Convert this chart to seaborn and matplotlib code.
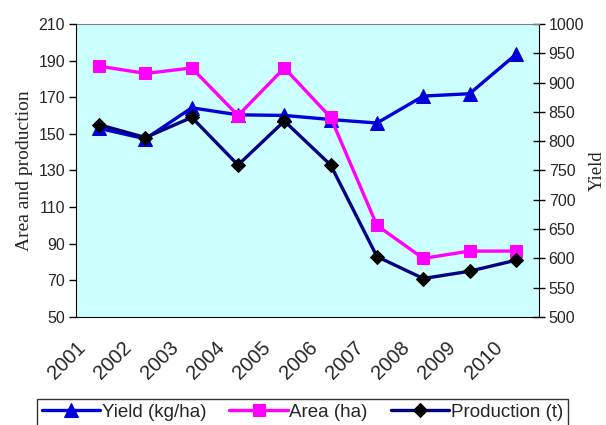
import matplotlib
matplotlib.use("Agg")
import matplotlib.pyplot as plt
import matplotlib.transforms as mtransforms
import seaborn as sns
import numpy as np
import pandas as pd

years = ["2001", "2002", "2003", "2004", "2005", "2006", "2007", "2008", "2009", "2010"]
yield_kg_ha = [822, 804, 857, 845, 844, 837, 831, 877, 881, 948]
area_ha = [187, 183, 186, 160, 186, 159, 100, 82, 86, 86]
production_t = [155, 148, 159, 133, 157, 133, 83, 71, 75, 81]

left_ticks = [50, 70, 90, 110, 130, 150, 170, 190, 210]
right_ticks = [500, 550, 600, 650, 700, 750, 800, 850, 900, 950, 1000]

sns.set_style("white")
plt.rcParams["font.family"] = ["Liberation Sans", "DejaVu Sans"]

df = pd.DataFrame({"x": np.arange(len(years)), "year": years,
                   "yield": yield_kg_ha, "area": area_ha, "prod": production_t})

fig = plt.figure(figsize=(6.06, 4.25), dpi=100)
ax = fig.add_axes([76/606, 1-317/425, (539-76)/606, (317-24)/425])
ax2 = ax.twinx()

ax.set_zorder(2)
ax.patch.set_visible(False)
ax2.set_zorder(1)
ax2.patch.set_visible(True)
ax2.patch.set_facecolor("#CCFFFF")

blue = "#0000D8"
mag = "#FF00FF"
navy = "#000080"

sns.lineplot(data=df, x="x", y="yield", ax=ax2, color=blue, linewidth=2.4,
             marker="^", markersize=10, markeredgecolor=blue, markerfacecolor=blue,
             label="Yield (kg/ha)", legend=False)
sns.lineplot(data=df, x="x", y="area", ax=ax, color=mag, linewidth=2.4,
             marker="s", markersize=9, markeredgecolor=mag, markerfacecolor=mag,
             label="Area (ha)", legend=False)
sns.lineplot(data=df, x="x", y="prod", ax=ax, color=navy, linewidth=2.4,
             marker="D", markersize=7.5, markeredgecolor="black", markerfacecolor="black",
             label="Production (t)", legend=False)

n = len(years)
ax.set_xlim(-0.5, n - 0.5)
ax.set_ylim(50, 210)
ax2.set_ylim(500, 1000)

ax.set_yticks(left_ticks)
ax.set_yticklabels([str(t) for t in left_ticks], fontsize=11.5)
ax2.set_yticks(right_ticks)
ax2.set_yticklabels([str(t) for t in right_ticks], fontsize=11.5)

ax.set_xticks(np.arange(n) - 0.5)
ax.set_xticks([n - 0.5], minor=True)
ax.set_xticklabels(years, rotation=45, ha="right", rotation_mode="anchor",
                   va="top", fontsize=14.5)
offset = mtransforms.ScaledTranslation(-5/100, 0, fig.dpi_scale_trans)
for lbl in ax.get_xticklabels():
    lbl.set_transform(lbl.get_transform() + offset)
ax.tick_params(axis="x", which="both", direction="out", length=5, width=1,
               color="black", pad=10)
ax.tick_params(axis="y", direction="out", length=5, width=1, color="black", pad=3)
ax2.tick_params(axis="y", direction="inout", length=8, width=1, color="black", pad=3)

ax.set_xlabel("")
ax.set_ylabel("Area and production", family=["Liberation Serif"], fontsize=14, labelpad=4)
ax2.set_ylabel("Yield", family=["Liberation Serif"], fontsize=13.5, labelpad=3)

for a in (ax, ax2):
    for s in a.spines.values():
        s.set_visible(False)
ax.spines["left"].set_visible(True)
ax.spines["left"].set_color("black")
ax.spines["bottom"].set_visible(True)
ax.spines["bottom"].set_color("black")
ax2.spines["right"].set_visible(True)
ax2.spines["right"].set_color("black")
ax2.spines["top"].set_visible(True)
ax2.spines["top"].set_color("#808080")

h1, l1 = ax2.get_legend_handles_labels()
h2, l2 = ax.get_legend_handles_labels()
leg = fig.legend(h1 + h2, l1 + l2, loc="upper left",
                 bbox_to_anchor=(37/606, 1-399/425, (568-37)/606, 0.0),
                 mode="expand", ncol=3, fontsize=13.5, frameon=True,
                 fancybox=False, edgecolor="black", handlelength=3.1,
                 handletextpad=0.1, columnspacing=0.4, borderpad=0.25,
                 numpoints=1, borderaxespad=0)
leg.get_frame().set_linewidth(1.0)

fig.savefig("out.png", dpi=100)
